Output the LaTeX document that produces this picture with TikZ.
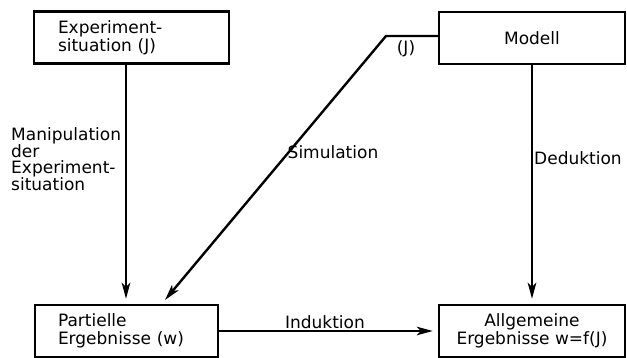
\documentclass[tikz,border=0pt]{standalone}
\usepackage{fontspec}
\setmainfont{DejaVu Sans}
\usetikzlibrary{arrows.meta}
\begin{document}
\begin{tikzpicture}[x=1pt,y=-1pt,
  every node/.style={font=\fontsize{17}{18}\selectfont},
  box/.style={draw,line width=2.4pt,minimum height=52pt,inner ysep=0pt},
  conn/.style={line width=2.4pt},
  arr/.style={conn,-{Stealth[length=16pt,width=8.5pt,inset=4pt]}},
  lab/.style={inner sep=0pt}]
\useasboundingbox (0,0) rectangle (627,358);
\node[box,align=left,text width=147pt,inner xsep=24pt] (b1) at (131.5,37.5) {Experiment-\\situation (J)};
\node[box,align=center,minimum width=186pt] (b2) at (532,38) {Modell};
\node[box,align=left,text width=137pt,inner xsep=23pt] (b3) at (126.5,331) {Partielle\\Ergebnisse (w)};
\node[box,align=center,minimum width=186pt] (b4) at (532,331) {Allgemeine\\Ergebnisse w=f(J)};
\coordinate (k) at (386,36);
\coordinate (s) at (165,300);
\draw[arr,shorten >=5pt] ([xshift=-5.5pt]b1.south) -- ([xshift=-5.5pt]b1.south |- b3.north);
\draw[arr,shorten >=5pt] (b2.south) -- (b4.north);
\draw[arr,shorten >=5pt] (b3.east) -- (b4.west);
\draw[arr] (b2.west |- k) -- (k) -- (s);
\node[lab,align=left,anchor=north west,font=\fontsize{17}{15.5}\selectfont] (lm) at (11,127) {Manipulation\\der\\Experiment-\\situation};
\node[lab] (ls) at (333,152) {Simulation};
\node[lab] (ld) at (578,158) {Deduktion};
\node[lab] (li) at (325,322) {Induktion};
\node[lab] (lj) at (406,49) {(J)};
\end{tikzpicture}
\end{document}
